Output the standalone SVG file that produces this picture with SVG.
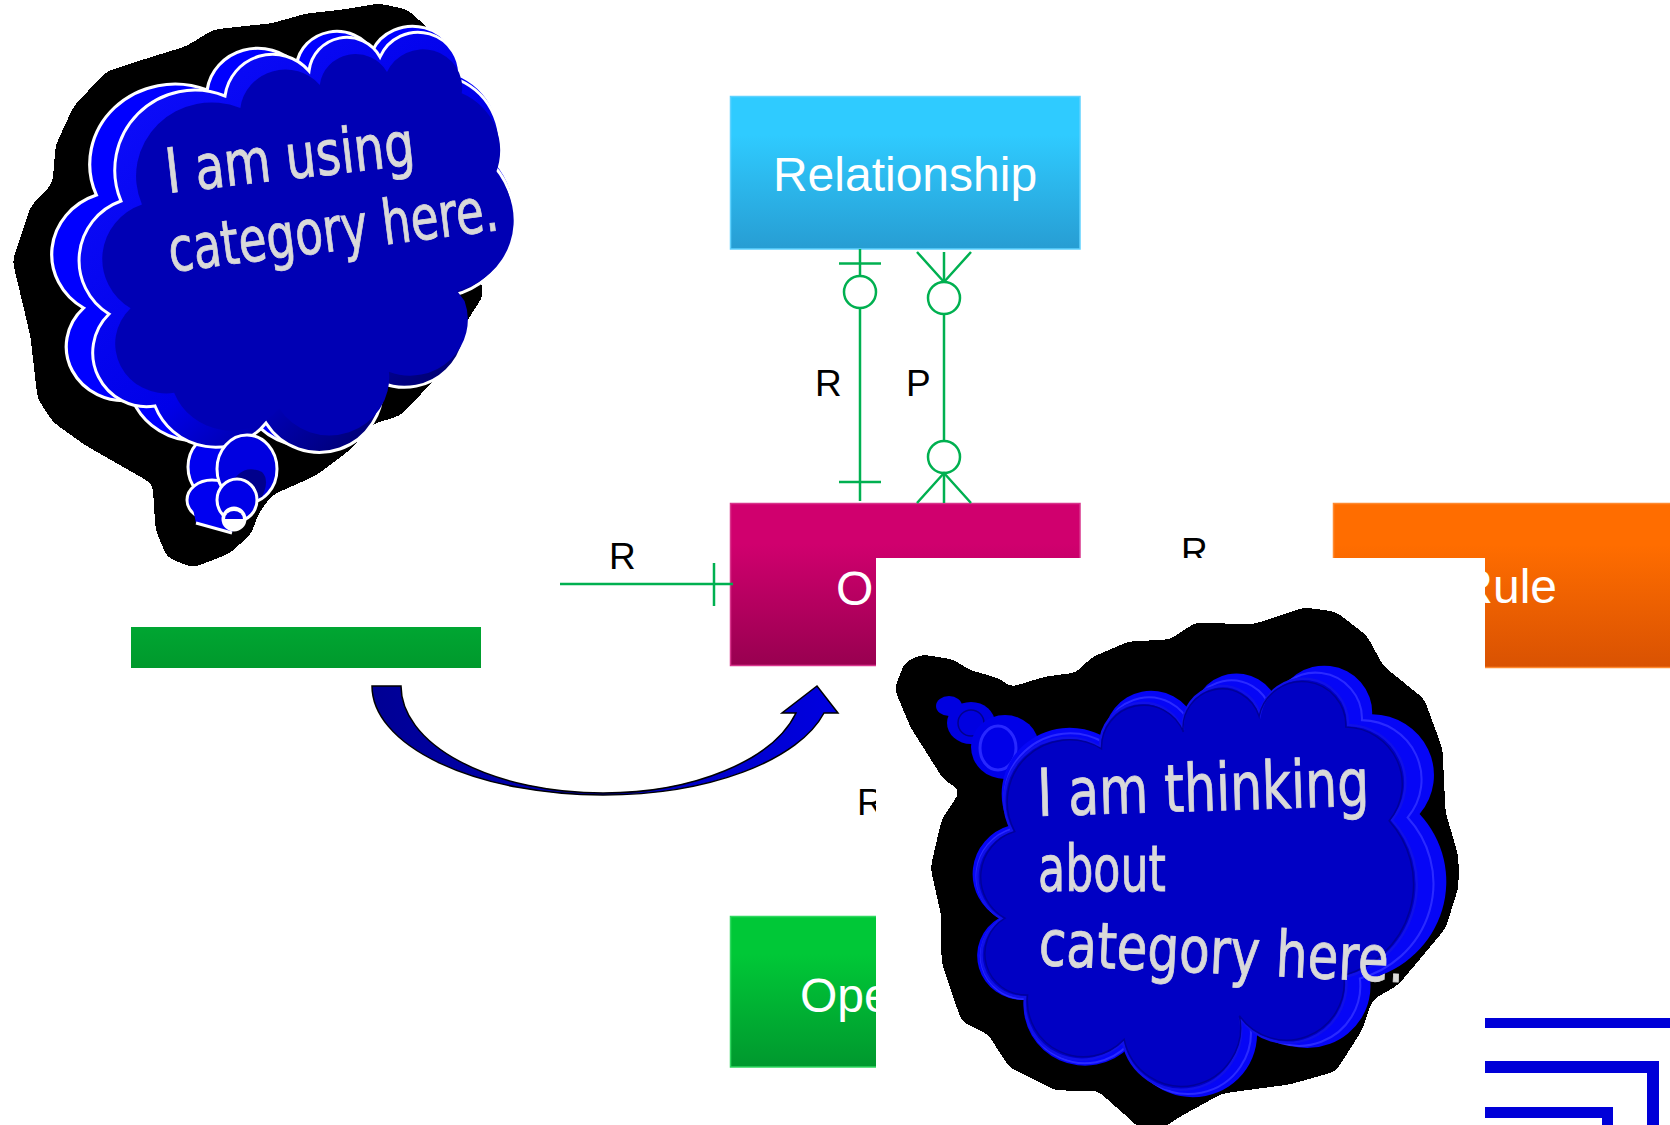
<svg xmlns="http://www.w3.org/2000/svg" width="1670" height="1125" viewBox="0 0 1670 1125">
<defs>
<linearGradient id="gRel" x1="0" y1="0" x2="0" y2="1"><stop offset="0.25" stop-color="#2fcbff"/><stop offset="1" stop-color="#279dd3"/></linearGradient>
<linearGradient id="gObj" x1="0" y1="0" x2="0" y2="1"><stop offset="0.25" stop-color="#d0006e"/><stop offset="1" stop-color="#980050"/></linearGradient>
<linearGradient id="gRule" x1="0" y1="0" x2="0" y2="1"><stop offset="0.25" stop-color="#ff6d00"/><stop offset="1" stop-color="#d95202"/></linearGradient>
<linearGradient id="gOpe" x1="0" y1="0" x2="0" y2="1"><stop offset="0.25" stop-color="#00c837"/><stop offset="1" stop-color="#00982e"/></linearGradient>
<linearGradient id="gLow" x1="0" y1="0" x2="0" y2="1"><stop offset="0" stop-color="#00a632"/><stop offset="1" stop-color="#00992c"/></linearGradient>
<linearGradient id="gArrow" x1="0" y1="0" x2="1" y2="0"><stop offset="0" stop-color="#000094"/><stop offset="1" stop-color="#0000e0"/></linearGradient>
<linearGradient id="gBevel" x1="0" y1="0" x2="1" y2="1"><stop offset="0" stop-color="#1010ff"/><stop offset="0.55" stop-color="#0000e8"/><stop offset="0.8" stop-color="#00007c"/><stop offset="1" stop-color="#000050"/></linearGradient>
<filter id="hard" filterUnits="userSpaceOnUse" x="0" y="0" width="1670" height="1125"><feGaussianBlur stdDeviation="5"/><feComponentTransfer><feFuncA type="discrete" tableValues="0 1"/></feComponentTransfer></filter>
<path id="c1" d="M225 96A48 48 0 0 1 309 71A38 38 0 0 1 380 57A41.500 41.500 0 0 1 459 80A68 68 0 0 1 495 167A79 79 0 0 1 454 295L462 306A61 61 0 0 1 382 383A63 63 0 0 1 266 423A65 65 0 0 1 155 406A54 54 0 0 1 109 314A63 63 0 0 1 121 201A80 80 0 0 1 225 96Z"/>
<path id="c2" d="M1100 747A43 43 0 0 1 1183 730A39.500 39.500 0 0 1 1260 714A44.500 44.500 0 0 1 1348 725A58 58 0 0 1 1392 820A96 96 0 0 1 1346 977A58.600 58.600 0 0 1 1240 1018A59.500 59.500 0 0 1 1123 1042A57 57 0 0 1 1025 997A42 42 0 0 1 1002 919A48 48 0 0 1 1012 831A63 63 0 0 1 1100 747Z"/>
<style>
.box{stroke-width:1.5}
.lbl{font-family:"Liberation Sans",Arial,sans-serif;font-size:48px;fill:#fff}
.rel{font-family:"Liberation Sans",Arial,sans-serif;font-size:37px;fill:#000}
.conn line,.conn polyline,.conn circle{stroke:#00b050;stroke-width:2.500;fill:none}
.conn circle{fill:#fff}
.say{font-family:"DejaVu Sans Condensed","DejaVu Sans",sans-serif;fill:#d9d9d9;stroke:#d9d9d9;stroke-width:.8}
.ws{stroke:#fff;stroke-width:3}
.bar{fill:#0000d8}
</style>
</defs>
<rect width="1670" height="1125" fill="#fff"/>

<g id="relationship"><rect class="box" x="730.500" y="96.500" width="349.500" height="152.500" fill="url(#gRel)" stroke="#5fd2ff"/><text class="lbl" x="905" y="191" text-anchor="middle">Relationship</text></g>
<g id="object"><rect class="box" x="730.500" y="503.500" width="349.500" height="162" fill="url(#gObj)" stroke="#d8348c"/><text class="lbl" x="836" y="605">O</text></g>
<g id="rule"><rect class="box" x="1333.500" y="503.500" width="340" height="164" fill="url(#gRule)" stroke="#ff8a30"/><text class="lbl" x="1557" y="603" text-anchor="end">Rule</text></g>
<g id="operation"><rect class="box" x="730.500" y="916.500" width="150" height="150.500" fill="url(#gOpe)" stroke="#30d860"/><text class="lbl" x="800" y="1012">Ope</text></g>
<g id="lower-box"><rect x="131" y="627" width="350" height="41" fill="url(#gLow)"/></g>

<g id="connectors" class="conn">
<line x1="860" y1="249" x2="860" y2="501"/><line x1="839" y1="263.500" x2="881" y2="263.500"/><circle cx="860" cy="292" r="16"/><line x1="839" y1="482" x2="881" y2="482"/>
<line x1="944" y1="252" x2="944" y2="503"/><polyline points="917,252 944,282 971,252"/><circle cx="944" cy="298" r="16"/><circle cx="944" cy="457" r="16"/><polyline points="917,503 944,473 971,503"/>
<line x1="560" y1="584" x2="733" y2="584"/><line x1="714" y1="563" x2="714" y2="606"/>
</g>
<g id="labels">
<text class="rel" x="815" y="396">R</text><text class="rel" x="906" y="396">P</text>
<text class="rel" x="609" y="569">R</text><text class="rel" x="1181" y="564">R</text><text class="rel" x="857" y="815">R</text>
</g>

<g id="arrow"><path d="M372 686A231 109 0 0 0 603 795A228 109 0 0 0 824 713H838L817 686L782 713H796A199 107 0 0 1 603 793A202 107 0 0 1 401 686Z" fill="url(#gArrow)" stroke="#000" stroke-width="1.500"/></g>

<g id="cover"><rect x="876" y="558" width="609" height="567" fill="#fff"/></g>
<g id="nested-bars">
<rect class="bar" x="1485" y="1018" width="185" height="10"/>
<path class="bar" d="M1485 1061H1659V1125H1647V1073H1485Z"/>
<path class="bar" d="M1485 1107H1613V1125H1602V1118H1485Z"/>
</g>

<g id="cloud-using">
<polygon filter="url(#hard)" stroke="#000" stroke-width="3" stroke-linejoin="round" points="271,25 307,15 343,11 379,5 407,11 429,31 482,295 462,326 437,375 400,414 371,423 350,448 314,475 271,494 257,513 250,533 229,552 193,566 168,556 157,529 154,483 121,464 86,444 54,421 39,398 32,337 25,307 14,261 32,207 54,184 57,146 75,107 107,73 150,59 186,48 214,31 250,27"/>
<g transform="matrix(1.065 0 0 1 -32.500 -6)"><use href="#c1" fill="#0000ff" stroke="#fff" stroke-width="3"/></g>
<ellipse class="ws" cx="217" cy="467" rx="29" ry="33" fill="#0000f0"/>
<ellipse class="ws" cx="212" cy="500" rx="25" ry="20" fill="#0000f0"/>
<polygon points="196,523 232,533 240,500 190,495" fill="#0000f0"/>
<line class="ws" x1="196" y1="523" x2="232" y2="533"/>
<use href="#c1" fill="url(#gBevel)" stroke="#fff" stroke-width="3"/>
<g transform="matrix(.946 0 0 .919 27.500 19.700)"><use href="#c1" fill="#0000b4"/></g>
<ellipse class="ws" cx="247" cy="469" rx="30" ry="34" fill="#0000e0"/>
<path d="M228 490Q240 462 262 472Q270 480 262 497Q240 502 228 490Z" fill="#00008c"/>
<ellipse class="ws" cx="237" cy="500" rx="20" ry="21" fill="#0000e8"/>
<ellipse class="ws" cx="234" cy="519" rx="11" ry="11" fill="#fff"/>
<path d="M225 519a9 8 0 0 1 18 0Z" fill="#0000e0"/>
<text class="say" font-size="62" transform="translate(168 193) rotate(-6.500)" textLength="250" lengthAdjust="spacingAndGlyphs">I am using</text>
<text class="say" font-size="62" transform="translate(171 272) rotate(-7.300)" textLength="332" lengthAdjust="spacingAndGlyphs">category here.</text>
</g>

<g id="cloud-thinking">
<polygon filter="url(#hard)" stroke="#000" stroke-width="3" stroke-linejoin="round" points="922,656 953,661 968,671 999,680 1010,689 1046,678 1077,674 1092,659 1129,643 1170,641 1196,624 1253,626 1304,609 1335,613 1366,637 1382,667 1423,700 1441,749 1444,812 1457,857 1457,887 1444,928 1397,984 1371,999 1361,1029 1335,1070 1289,1083 1222,1092 1180,1115 1149,1135 1123,1111 1098,1089 1056,1089 1010,1066 989,1033 963,1021 943,962 943,917 932,868 943,820 963,790 945,779 912,727 896,689 906,663"/>
<ellipse cx="949" cy="706" rx="13" ry="10" fill="#0000e0"/>
<ellipse cx="971" cy="723" rx="24" ry="21" fill="#0000e0"/>
<ellipse cx="971" cy="723" rx="13" ry="13" fill="none" stroke="#00008c" stroke-width="1.500"/>
<ellipse cx="1005" cy="747" rx="34" ry="32" fill="#0000e8"/>
<ellipse cx="998" cy="748" rx="18" ry="22" fill="none" stroke="#2828ff" stroke-width="3"/>
<g transform="matrix(1.078 0 0 1.050 -81 -47)"><use href="#c2" fill="#0606f6"/></g>
<g transform="matrix(1.040 0 0 1.025 -40 -23)"><use href="#c2" fill="none" stroke="#2a2aff" stroke-width="2"/></g>
<use href="#c2" fill="#0000c4" stroke="#1010e8" stroke-width="2.500"/>
<g transform="matrix(.985 0 0 .985 18 13)"><use href="#c2" fill="none" stroke="#00009a" stroke-width="1.500"/></g>
<text class="say" font-size="66" transform="translate(1038 816) rotate(-1.800)" textLength="332" lengthAdjust="spacingAndGlyphs">I am thinking</text>
<text class="say" font-size="64" x="1038" y="891" textLength="128" lengthAdjust="spacingAndGlyphs">about</text>
<text class="say" font-size="64" transform="translate(1038 965) rotate(2.700)" textLength="366" lengthAdjust="spacingAndGlyphs">category here.</text>
</g>
</svg>
